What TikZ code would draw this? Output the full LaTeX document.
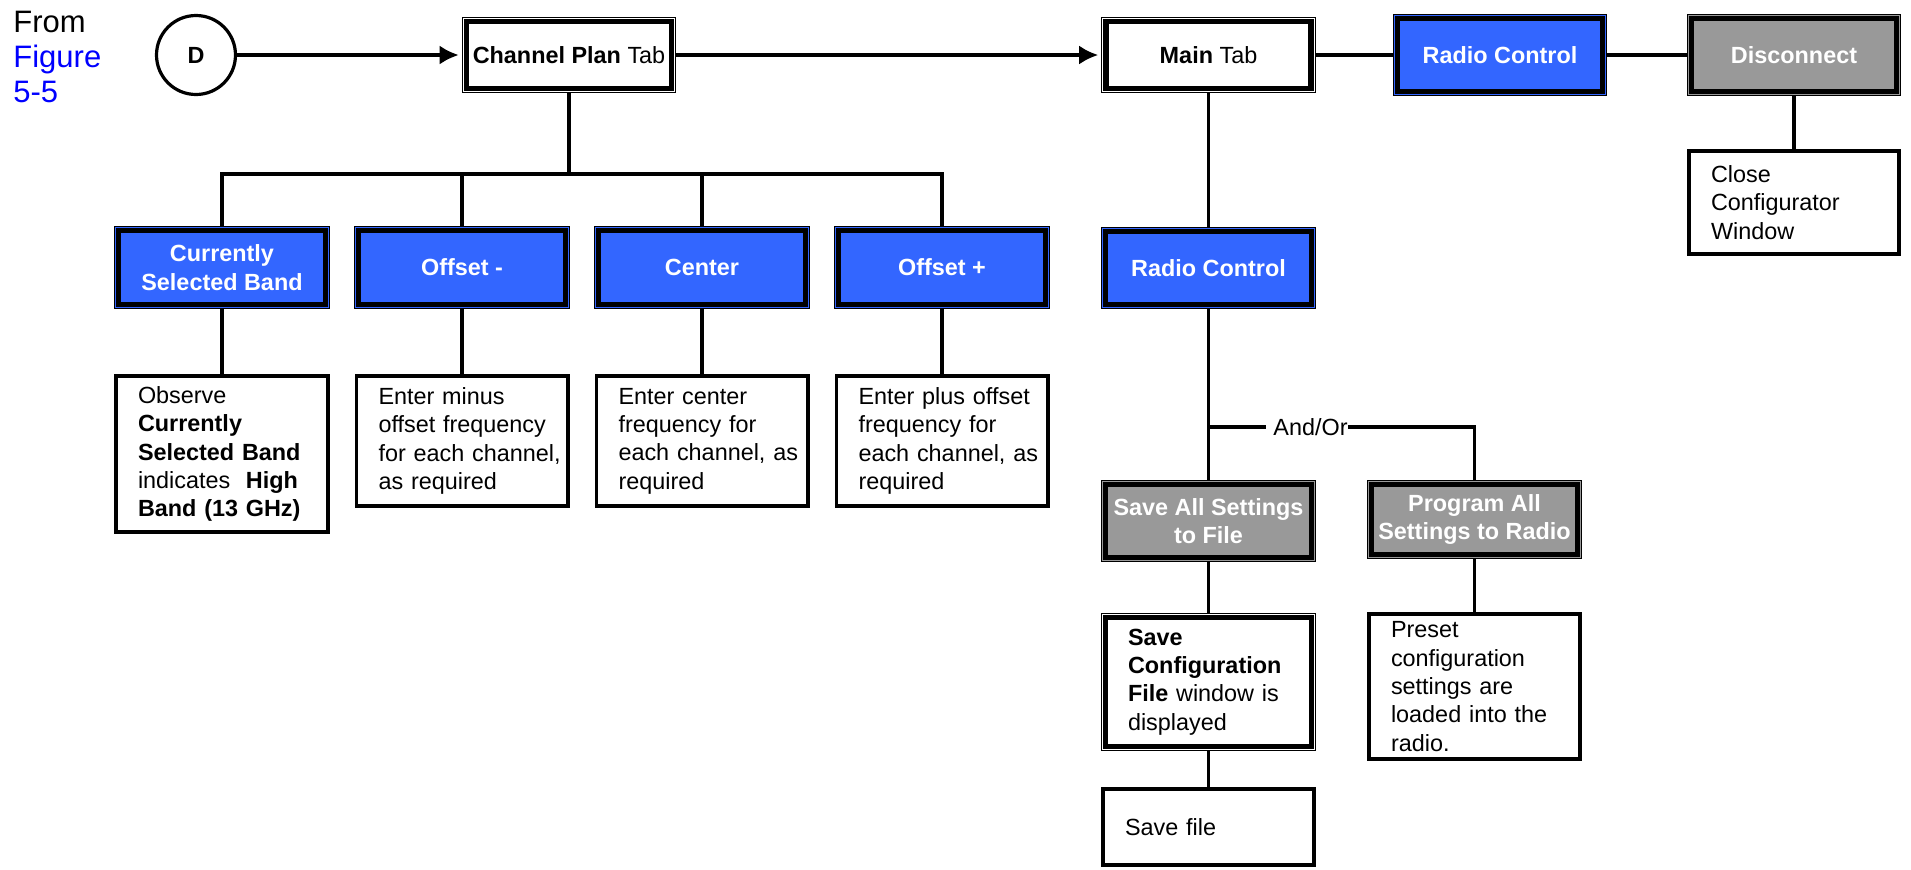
\documentclass[tikz,border=0pt]{standalone}
\usepackage{fontspec}
\setmainfont{Liberation Sans}
\usetikzlibrary{arrows.meta}
\definecolor{boxblue}{RGB}{51,102,255}
\definecolor{boxgray}{RGB}{153,153,153}
\definecolor{linkblue}{RGB}{0,0,255}
\newcommand{\bodyf}{\fontsize{11.7}{14.15}\selectfont}
\newcommand{\padtext}[2]{\leftskip=#1\relax #2\par}
\begin{document}
\begin{tikzpicture}[x=0.5pt, y=-0.5pt,
  conn/.style={draw=black, line width=1.6pt},
  arr/.style={conn, -{Latex[length=9.5pt,width=9.5pt]}, shorten >=1.6pt},
  dbl/.style={draw=black, line width=3.6pt, fill=#1, align=center, inner sep=1pt, font=\bodyf},
  bluebox/.style={dbl=boxblue, text=white, font=\bodyf\bfseries},
  graybox/.style={dbl=boxgray, text=white, font=\bodyf\bfseries},
  txt/.style={draw=black, line width=1.8pt, fill=white, align=left, inner xsep=1pt, inner ysep=0pt, font=\bodyf, text width=#1},
  dlabel/.style={circle, draw=black, line width=1.6pt, minimum size=39.5pt, inner sep=0pt, font=\bodyf\bfseries}
]
\useasboundingbox (0,0) rectangle (1911,869);

% title text
\node[anchor=north west, align=left, inner sep=0pt, font=\fontsize{15.5}{17.5}\selectfont] (from) at (13,11)
  {From\\\textcolor{linkblue}{Figure}\\\textcolor{linkblue}{5-5}};

% top row
\node[dlabel] (D) at (196,55) {D};
\node[dbl=white, minimum width=103.5pt, minimum height=34.5pt] (chan) at (569,55) {\textbf{Channel Plan} Tab};
\node[dbl=white, minimum width=103.5pt, minimum height=34.5pt] (main) at (1208.5,55) {\textbf{Main} Tab};
\node[bluebox, minimum width=103.5pt, minimum height=37.5pt] (rc1) at (1500,55) {Radio Control};
\node[graybox, minimum width=103.5pt, minimum height=37.5pt] (disc) at (1794,55) {Disconnect};
\node[txt=103.2pt, minimum height=51.7pt] (close) at (1794,202.5) {\padtext{10.1pt}{Close\\Configurator\\Window}};

% channel plan branch
\node[bluebox, minimum width=104.5pt, minimum height=38pt] (csb) at (222,267.5) {Currently\\Selected Band};
\node[bluebox, minimum width=104.5pt, minimum height=38pt] (offm) at (462,267.5) {Offset -};
\node[bluebox, minimum width=104.5pt, minimum height=38pt] (cent) at (702,267.5) {Center};
\node[bluebox, minimum width=104.5pt, minimum height=38pt] (offp) at (942,267.5) {Offset +};

\node[txt=104.2pt, minimum height=78.2pt] (obs) at (222,454)
  {\padtext{10.1pt}{Observe\\\textbf{Currently}\\\textbf{Selected Band}\\indicates\ \ \textbf{High}\\\textbf{Band (13 GHz)}}};
\node[txt=103.7pt, minimum height=65.2pt] (tminus) at (462,441)
  {\padtext{10.1pt}{Enter minus\\offset frequency\\for each channel,\\as required}};
\node[txt=103.7pt, minimum height=65.2pt] (tcent) at (702,441)
  {\padtext{10.1pt}{Enter center\\frequency for\\each channel, as\\required}};
\node[txt=103.7pt, minimum height=65.2pt] (tplus) at (942,441)
  {\padtext{10.1pt}{Enter plus offset\\frequency for\\each channel, as\\required}};

% main tab branch
\node[bluebox, minimum width=104pt, minimum height=37.5pt] (rc2) at (1208.5,268) {Radio Control};
\node[anchor=west, inner sep=0pt, font=\bodyf] (andor) at (1273,427) {And/Or};
\node[graybox, minimum width=104pt, minimum height=37.5pt] (saveall) at (1208.5,521) {Save All Settings\\to File};
\node[graybox, minimum width=104pt, minimum height=36pt] (progall) at (1474.5,519.5) {Program All\\Settings to Radio};
\node[dbl=white, align=left, text width=102pt, minimum height=65.5pt] (savecfg) at (1208.5,682)
  {\padtext{10.75pt}{\textbf{Save}\\\textbf{Configuration}\\\textbf{File} window is\\displayed}};
\node[txt=103.7pt, minimum height=72.7pt] (preset) at (1474.5,686.5)
  {\padtext{10.1pt}{Preset\\configuration\\settings are\\loaded into the\\radio.}};
\node[txt=103.7pt, minimum height=38.2pt] (savefile) at (1208.5,827) {\padtext{10.1pt}{Save file}};

% inner thin lines of the double borders
\foreach \n/\c in {chan/white, main/white, rc1/boxblue, disc/boxgray, csb/boxblue, offm/boxblue,
                   cent/boxblue, offp/boxblue, rc2/boxblue, saveall/boxgray, progall/boxgray, savecfg/white}
  \draw[line width=0.5pt, draw=\c] ([shift={(0.6pt,-0.6pt)}]\n.north west) rectangle ([shift={(-0.6pt,0.6pt)}]\n.south east);

% connectors
\draw[arr] (D) -- (chan);
\draw[arr] (chan) -- (main);
\draw[conn] (main) -- (rc1);
\draw[conn] (rc1) -- (disc);
\draw[conn] (disc) -- (close);
\draw[conn] (main) -- (rc2);

\coordinate (bus) at (569,174);
\draw[conn] (chan) -- (bus);
\draw[conn] (csb) |- (bus) -| (offp);
\draw[conn] (offm) -- (offm |- bus);
\draw[conn] (cent) -- (cent |- bus);
\draw[conn] (csb) -- (obs);
\draw[conn] (offm) -- (tminus);
\draw[conn] (cent) -- (tcent);
\draw[conn] (offp) -- (tplus);

\draw[conn] (rc2) -- (saveall);
\coordinate (split) at (rc2 |- andor);
\draw[conn] (split) -- ([xshift=-3.5pt]andor.west);
\draw[conn] (andor) -| (progall);
\draw[conn] (saveall) -- (savecfg);
\draw[conn] (savecfg) -- (savefile);
\draw[conn] (progall) -- (preset);
\end{tikzpicture}
\end{document}
